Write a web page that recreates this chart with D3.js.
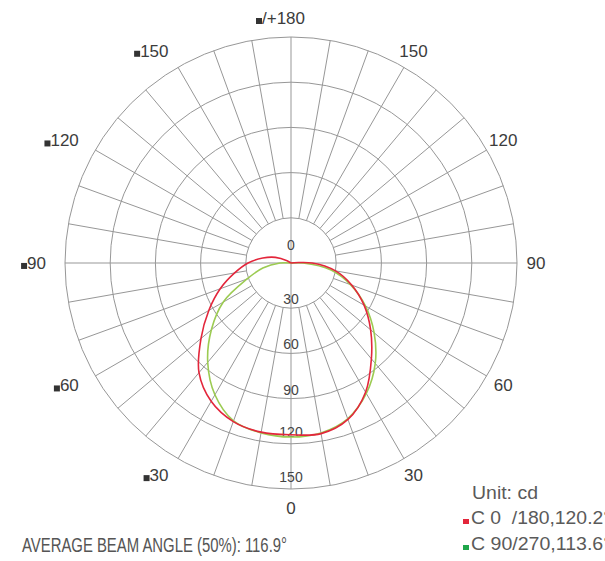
<!DOCTYPE html>
<html>
<head>
<meta charset="utf-8">
<script src="https://cdn.jsdelivr.net/npm/d3@7"></script>
<style>
  body { margin: 0; background: #fff; }
  svg { display: block; font-family: "Liberation Sans", Arial, sans-serif; }
</style>
</head>
<body>
<svg id="chart" width="605" height="561"></svg>
<script>
// gamma angle (deg, 0 = straight down) and intensity (cd)
const gammaC0   = [0, 10, 20, 30, 40, 50, 60, 70, 80, 90, 97]
const c0        = [114, 115, 110.5, 99, 83, 69, 56, 43, 30, 14, 0]
const gammaC180 = [0, 10, 20, 30, 40, 50, 60, 70, 80, 90, 100, 110, 120, 125]
const c180      = [114, 114, 112, 106, 95, 78, 63, 50, 38, 28.5, 19, 11, 3, 0]
const gammaC90  = [0, 10, 20, 30, 40, 50, 60, 70, 80, 90, 94]
const c90       = [115.5, 114.5, 110, 100, 87, 72, 57, 42, 27, 8, 0]
const gammaC270 = [0, 10, 20, 30, 40, 50, 60, 70, 80, 90, 95]
const c270      = [115.5, 114.5, 111.5, 101, 86, 69, 52, 31, 19, 7.3, 0]

const ringValues  = [30, 60, 90, 120, 150]
const angleLabels = [0, 30, 60, 90, 120, 150, 180]
const legendLabels = ['C 0  /180,120.2°', 'C 90/270,113.6°']
const legendColors = ['#e3263b', '#1fa64a']
const lineColors   = ['#e3263b', '#9ccb52']
const unitLabel = 'Unit: cd'
const beamLabel = 'AVERAGE BEAM ANGLE (50%): 116.9°'

const svg = d3.select('#chart')
const cx = 291, cy = 263
const r = d3.scaleLinear().domain([0, 150]).range([0, 226])
const rad = d => d * Math.PI / 180
// screen angle, clockwise from 12 o'clock; right half for C0/C90, left for C180/C270
const px = (a, rr) => cx + rr * Math.sin(a)
const py = (a, rr) => cy - rr * Math.cos(a)

const grid = svg.append('g').attr('stroke', '#979797').attr('fill', 'none').attr('stroke-width', 1)

grid.selectAll('circle').data(ringValues).join('circle')
  .attr('cx', cx).attr('cy', cy).attr('r', d => r(d))

// spokes every 10 deg, from the inner ring out
const spokes = d3.range(0, 360, 10).filter(d => d % 90 !== 0)
grid.selectAll('line.spoke').data(spokes).join('line')
  .attr('class', 'spoke')
  .attr('x1', d => px(rad(d), r(30))).attr('y1', d => py(rad(d), r(30)))
  .attr('x2', d => px(rad(d), r(150))).attr('y2', d => py(rad(d), r(150)))
// the two axes run right through the centre
grid.selectAll('line.axis').data([0, 90]).join('line')
  .attr('class', 'axis')
  .attr('x1', d => px(rad(d), r(150))).attr('y1', d => py(rad(d), r(150)))
  .attr('x2', d => px(rad(d + 180), r(150))).attr('y2', d => py(rad(d + 180), r(150)))

// radial value labels down the lower axis
svg.append('g').selectAll('text').data([0].concat(ringValues)).join('text')
  .attr('x', cx)
  .attr('y', d => d === 0 ? cy - 13 : cy + r(d) - (d > 90 ? 7 : 4))
  .attr('text-anchor', 'middle')
  .attr('font-size', 14)
  .attr('fill', '#444')
  .text(d => d)

// curves
function curvePoints(gLeft, vLeft, gRight, vRight) {
  const left = gLeft.map((g, i) => ({ a: Math.PI + rad(g), v: vLeft[i] })).reverse()
  const right = gRight.map((g, i) => ({ a: Math.PI - rad(g), v: vRight[i] })).slice(1)
  return left.concat(right)
}
const radial = d3.lineRadial()
  .angle(d => d.a)
  .radius(d => r(d.v))
  .curve(d3.curveCatmullRom.alpha(0.5))

const series = [
  curvePoints(gammaC270, c270, gammaC90, c90),
  curvePoints(gammaC180, c180, gammaC0, c0)
]
const seriesColors = [lineColors[1], lineColors[0]]
svg.append('g').attr('transform', `translate(${cx},${cy})`)
  .selectAll('path').data(series).join('path')
  .attr('d', radial)
  .attr('fill', 'none')
  .attr('stroke', (d, i) => seriesColors[i])
  .attr('stroke-width', 1.6)

// angle labels round the rim
const labels = svg.append('g').attr('font-size', 17).attr('fill', '#3c3c3c')
const marker = t => {
  const b = t.node().getBBox()
  labels.append('rect').attr('x', b.x - 6).attr('y', b.y + b.height - 10)
    .attr('width', 6).attr('height', 6).attr('fill', '#333')
}
angleLabels.forEach(g => {
  if (g === 180) {
    marker(labels.append('text')
      .attr('x', cx - 29).attr('y', py(0, 245) + 6)
      .text('/+180'))
    return
  }
  const aR = Math.PI - rad(g)
  labels.append('text')
    .attr('x', px(aR, 245)).attr('y', py(aR, 245))
    .attr('dy', '0.35em').attr('text-anchor', 'middle')
    .text(g)
  if (g === 0) return
  const aL = Math.PI + rad(g)
  marker(labels.append('text')
    .attr('x', px(aL, 245)).attr('y', py(aL, 245))
    .attr('dy', '0.35em').attr('text-anchor', 'end')
    .text(g))
})

// beam angle note
svg.append('text')
  .attr('x', 22).attr('y', 552)
  .attr('font-size', 20).attr('fill', '#555')
  .attr('textLength', 265).attr('lengthAdjust', 'spacingAndGlyphs')
  .text(beamLabel)

// legend
const legend = svg.append('g').attr('font-size', 18).attr('fill', '#5a5a5a')
legend.append('text').attr('x', 472).attr('y', 499)
  .attr('textLength', 66).attr('lengthAdjust', 'spacingAndGlyphs')
  .text(unitLabel)
legendLabels.forEach((lab, i) => {
  const y = 524 + i * 26
  legend.append('rect').attr('x', 463).attr('y', y - 5).attr('width', 6).attr('height', 5)
    .attr('fill', legendColors[i])
  legend.append('text').attr('x', 471).attr('y', y)
    .style('white-space', 'pre')
    .attr('textLength', 140).attr('lengthAdjust', 'spacingAndGlyphs')
    .text(lab)
})
</script>
</body>
</html>
